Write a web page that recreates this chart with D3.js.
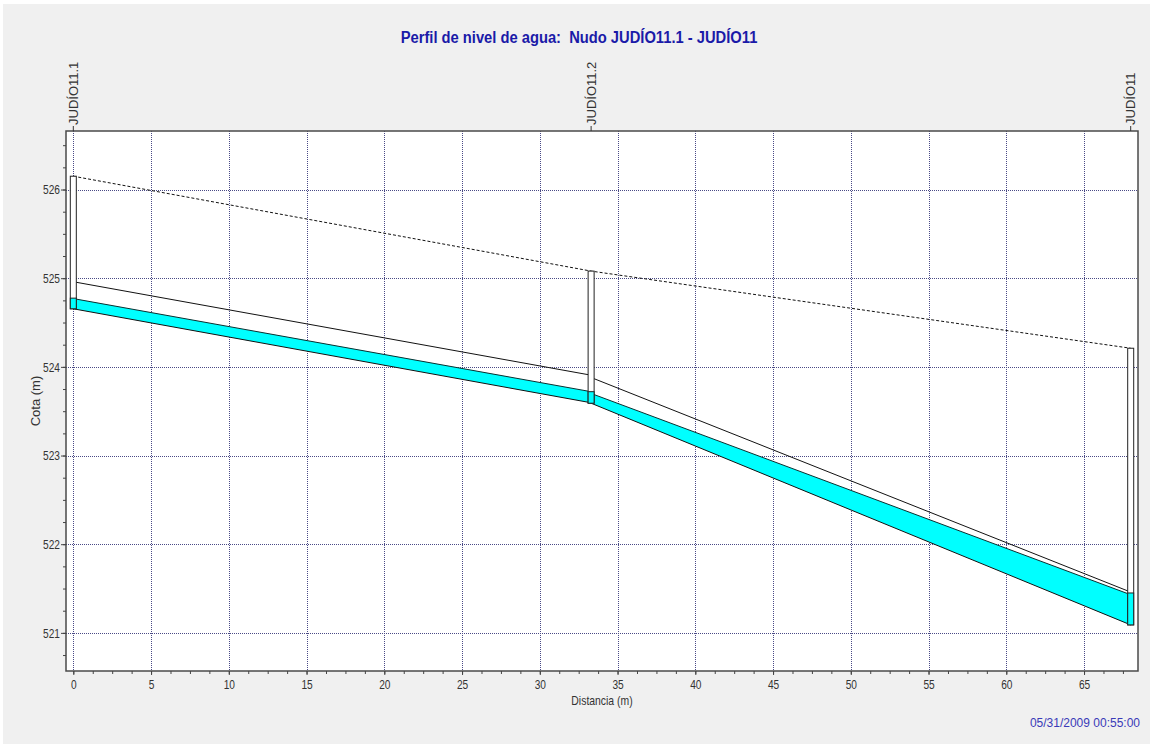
<!DOCTYPE html>
<html lang="es">
<head>
    <meta charset="UTF-8">
    <title>Perfil de nivel de agua</title>
    <style>
        body { margin: 0; background: #ffffff; }
        svg { display: block; font-family: "Liberation Sans", Arial, sans-serif; }
    </style>
    <script src="https://cdnjs.cloudflare.com/ajax/libs/d3/7.8.5/d3.min.js"></script>
</head>
<body>
    <div id="chart"></div>

    <script>
        // Nodes (manholes) along the profile
        const nodeNames = ["JUDÍO11.1", "JUDÍO11.2", "JUDÍO11"];
        const nodeDist = [0, 33.3, 68];
        const nodeInvert = [524.655, 523.59, 521.09];
        const nodeRim = [526.15, 525.08, 524.21];
        const nodeHead = [524.775, 523.72, 521.45];

        // Conduits between consecutive nodes
        const linkUpInvert = [524.655, 523.59];
        const linkDnInvert = [523.595, 521.09];
        const linkUpCrown = [524.96, 523.88];
        const linkDnCrown = [523.906, 521.46];
        const linkUpHead = [524.77, 523.70];
        const linkDnHead = [523.72, 521.43];

        // Axis tick labels
        const xTicks = [0, 5, 10, 15, 20, 25, 30, 35, 40, 45, 50, 55, 60, 65];
        const yTicks = [521, 522, 523, 524, 525, 526];

        const titleText = "Perfil de nivel de agua:  Nudo JUDÍO11.1 - JUDÍO11";
        const xTitle = "Distancia (m)";
        const yTitle = "Cota (m)";
        const stamp = "05/31/2009 00:55:00";

        const W = 1150, H = 744;
        const plot = { left: 66, top: 131, right: 1138, bottom: 671 };

        const svg = d3.select("#chart").append("svg")
            .attr("width", W)
            .attr("height", H);

        svg.append("rect")
            .attr("x", 3).attr("y", 4)
            .attr("width", W - 3).attr("height", H - 4)
            .attr("fill", "#f0f0f0");

        const x = d3.scaleLinear().domain([-0.47, 68.47]).range([plot.left, plot.right]);
        const y = d3.scaleLinear().domain([520.57, 526.66]).range([plot.bottom, plot.top]);

        // squeeze text horizontally (the original font is narrow)
        function squeeze(sel, k) {
            sel.each(function () {
                const w = this.getComputedTextLength();
                d3.select(this).attr("textLength", w * k).attr("lengthAdjust", "spacingAndGlyphs");
            });
        }

        // plot background
        svg.append("rect")
            .attr("x", plot.left).attr("y", plot.top)
            .attr("width", plot.right - plot.left)
            .attr("height", plot.bottom - plot.top)
            .attr("fill", "#ffffff");

        // grid
        const grid = svg.append("g")
            .attr("stroke", "#4a4a86")
            .attr("stroke-dasharray", "1,1")
            .attr("shape-rendering", "crispEdges");
        grid.selectAll(".gx").data(xTicks).join("line")
            .attr("x1", d => Math.round(x(d)) + 0.5).attr("x2", d => Math.round(x(d)) + 0.5)
            .attr("y1", plot.top).attr("y2", plot.bottom);
        grid.selectAll(".gy").data(yTicks).join("line")
            .attr("y1", d => Math.round(y(d)) + 0.5).attr("y2", d => Math.round(y(d)) + 0.5)
            .attr("x1", plot.left).attr("x2", plot.right);

        // conduits
        const links = d3.range(linkUpInvert.length).map(i => ({
            x0: nodeDist[i], x1: nodeDist[i + 1],
            inv0: linkUpInvert[i], inv1: linkDnInvert[i],
            cr0: linkUpCrown[i], cr1: linkDnCrown[i],
            hd0: linkUpHead[i], hd1: linkDnHead[i]
        }));

        const lg = svg.append("g");
        lg.selectAll(".water").data(links).join("path")
            .attr("fill", "#00ffff")
            .attr("d", d => `M${x(d.x0)},${y(d.hd0)}L${x(d.x1)},${y(d.hd1)}L${x(d.x1)},${y(d.inv1)}L${x(d.x0)},${y(d.inv0)}Z`);
        lg.selectAll(".crown").data(links).join("line")
            .attr("stroke", "#111").attr("stroke-width", 1)
            .attr("x1", d => x(d.x0)).attr("y1", d => y(d.cr0))
            .attr("x2", d => x(d.x1)).attr("y2", d => y(d.cr1));
        lg.selectAll(".head").data(links).join("line")
            .attr("stroke", "#0a3030").attr("stroke-width", 1)
            .attr("x1", d => x(d.x0)).attr("y1", d => y(d.hd0))
            .attr("x2", d => x(d.x1)).attr("y2", d => y(d.hd1));
        lg.selectAll(".invert").data(links).join("line")
            .attr("stroke", "#111").attr("stroke-width", 1)
            .attr("x1", d => x(d.x0)).attr("y1", d => y(d.inv0))
            .attr("x2", d => x(d.x1)).attr("y2", d => y(d.inv1));

        // ground line through the rims
        const ground = d3.line().x((d, i) => x(nodeDist[i])).y(d => y(d));
        svg.append("path")
            .attr("d", ground(nodeRim))
            .attr("fill", "none")
            .attr("stroke", "#111")
            .attr("stroke-dasharray", "3,2");

        // manholes
        const mw = 6;
        const nodes = nodeNames.map((n, i) => ({ name: n, d: nodeDist[i], inv: nodeInvert[i], rim: nodeRim[i], head: nodeHead[i] }));
        const ng = svg.append("g");
        ng.selectAll(".mh").data(nodes).join("rect")
            .attr("x", d => x(d.d) - mw / 2)
            .attr("y", d => y(d.rim))
            .attr("width", mw)
            .attr("height", d => y(d.inv) - y(d.rim))
            .attr("fill", "#ffffff")
            .attr("stroke", "#222");
        ng.selectAll(".mhw").data(nodes).join("rect")
            .attr("x", d => x(d.d) - mw / 2)
            .attr("y", d => y(d.head))
            .attr("width", mw)
            .attr("height", d => y(d.inv) - y(d.head))
            .attr("fill", "#00ffff")
            .attr("stroke", "#222");

        // frame
        svg.append("rect")
            .attr("x", plot.left).attr("y", plot.top)
            .attr("width", plot.right - plot.left)
            .attr("height", plot.bottom - plot.top)
            .attr("fill", "none")
            .attr("stroke", "#4a4a4a")
            .attr("stroke-width", 1.5);

        // axes
        const tickCol = "#444";
        const xAxis = svg.append("g")
            .attr("transform", `translate(0,${plot.bottom})`)
            .call(d3.axisBottom(x).tickValues(xTicks).tickSize(4).tickPadding(5).tickFormat(d3.format("d")));
        svg.append("g")
            .attr("transform", `translate(0,${plot.bottom})`)
            .call(d3.axisBottom(x).tickValues(d3.range(0, 68.1, 1.25)).tickSize(3).tickFormat(""))
            .call(g => g.select(".domain").remove())
            .call(g => g.selectAll("line").attr("stroke", tickCol));
        const yAxis = svg.append("g")
            .attr("transform", `translate(${plot.left},0)`)
            .call(d3.axisLeft(y).tickValues(yTicks).tickSize(5).tickPadding(1).tickFormat(d3.format("d")));
        svg.append("g")
            .attr("transform", `translate(${plot.left},0)`)
            .call(d3.axisLeft(y).tickValues(d3.range(520.75, 526.6, 0.25)).tickSize(3).tickFormat(""))
            .call(g => g.select(".domain").remove())
            .call(g => g.selectAll("line").attr("stroke", tickCol));

        [xAxis, yAxis].forEach(a => {
            a.select(".domain").remove();
            a.selectAll("line").attr("stroke", tickCol);
            a.selectAll("text")
                .attr("fill", "#333")
                .style("font-size", "13px")
                .style("font-family", "'Liberation Sans', Arial, sans-serif")
                .call(squeeze, 0.78);
        });

        // node labels above the plot
        const lab = svg.append("g");
        lab.selectAll("line").data(nodes).join("line")
            .attr("x1", d => x(d.d)).attr("x2", d => x(d.d))
            .attr("y1", plot.top - 5).attr("y2", plot.top)
            .attr("stroke", "#333");
        lab.selectAll("text").data(nodes).join("text")
            .attr("transform", d => `translate(${x(d.d)},${plot.top - 6}) rotate(-90)`)
            .attr("dy", "0.35em")
            .attr("fill", "#333")
            .style("font-size", "13px")
            .text(d => d.name);

        // titles
        svg.append("text")
            .attr("x", 579).attr("y", 43)
            .attr("text-anchor", "middle")
            .attr("fill", "#1a1aa8")
            .style("font-size", "16px")
            .style("font-weight", "bold")
            .style("white-space", "pre")
            .text(titleText)
            .call(squeeze, 0.92);

        svg.append("text")
            .attr("x", (plot.left + plot.right) / 2).attr("y", 705)
            .attr("text-anchor", "middle")
            .attr("fill", "#333")
            .style("font-size", "13px")
            .text(xTitle)
            .call(squeeze, 0.8);

        svg.append("text")
            .attr("transform", `translate(40,${(plot.top + plot.bottom) / 2}) rotate(-90)`)
            .attr("text-anchor", "middle")
            .attr("fill", "#333")
            .style("font-size", "13px")
            .text(yTitle);

        svg.append("text")
            .attr("x", 1140).attr("y", 727)
            .attr("text-anchor", "end")
            .attr("fill", "#3a3ab8")
            .style("font-size", "12px")
            .text(stamp);
    </script>
</body>
</html>
